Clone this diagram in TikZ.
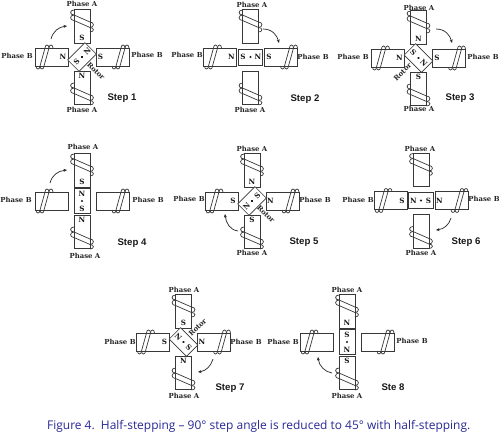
\documentclass[tikz,border=0pt]{standalone}
\usepackage{fontspec}
\setmainfont{DejaVu Serif}
\setsansfont{Liberation Sans}
\newfontfamily\capfont{Open Sans}
\usetikzlibrary{arrows.meta}
\definecolor{capblue}{RGB}{40,40,150}
\tikzset{
  ln/.style={draw=black!78,line width=0.7pt},
  phase/.style={font=\rmfamily\bfseries\fontsize{6.9}{8}\selectfont,inner sep=0pt,text=black!85},
  pole/.style={font=\rmfamily\bfseries\fontsize{7.2}{8}\selectfont,inner sep=0pt,text=black!90},
  rotorlbl/.style={font=\rmfamily\bfseries\fontsize{6.9}{8}\selectfont,inner sep=0pt,text=black!85},
  steplbl/.style={font=\sffamily\bfseries\fontsize{9.6}{10}\selectfont,inner sep=0pt,text=black!90},
  turn/.style={line width=0.7pt,draw=black!85,-{Stealth[length=3.5pt,width=3pt]}},
}
\newcommand{\vcoil}[2]{\begin{scope}[shift={(#1,#2)}]
  \draw[ln] (-8,-10) .. controls (-12.5,-10) and (-12.5,-5) .. (-8,-5) -- (8,2)
     .. controls (12.5,2) and (12.5,7.5) .. (8,7.5);
  \draw[ln] (-8,-5) .. controls (-12.5,-5) and (-12.5,0.5) .. (-8,0.5) -- (8,7.5)
     .. controls (12.5,7.5) and (12.5,12) .. (8,12);
\end{scope}}
\newcommand{\hcoil}[2]{\begin{scope}[shift={(#1,#2)}]
  \draw[ln] (-8,9) .. controls (-8,13) and (-4,13) .. (-4,9) -- (1,-9)
     .. controls (1,-13) and (5,-13) .. (5,-9);
  \draw[ln] (-4,9) .. controls (-4,13) and (0,13) .. (0,9) -- (5,-9)
     .. controls (5,-13) and (9,-13) .. (9,-9);
\end{scope}}
% centre x, y; pole letters top, left, right, bottom
\newcommand{\poles}[6]{\begin{scope}[shift={(#1,#2)}]
  \draw[ln] (-8,-47.5) rectangle (8,-14);
  \draw[ln] (-8,14) rectangle (8,47.5);
  \draw[ln] (-47,-9) rectangle (-14,9);
  \draw[ln] (14,-9) rectangle (47,9);
  \vcoil{0}{-37}
  \vcoil{0}{36}
  \hcoil{-38}{0}
  \hcoil{38}{0}
  \node[pole] at (0,-19) {#3};
  \node[pole] at (-19,0) {#4};
  \node[pole] at (18.5,0) {#5};
  \node[pole] at (0,19) {#6};
\end{scope}}
% centre x, y; body angle; letter at the negative and positive end; text angle
\newcommand{\rotorbar}[6]{\begin{scope}[shift={(#1,#2)}]
  \begin{scope}[rotate=#3]
    \draw[ln,fill=white] (-12.2,-8) rectangle (12.2,8);
    \node[pole,rotate=#6] at (-7.5,0) {#4};
    \node[pole,rotate=#6] at (7.5,0) {#5};
    \fill[black!90] (0,0) circle (1.1);
  \end{scope}
\end{scope}}
\begin{document}
\begin{tikzpicture}[x=1pt,y=-1pt]
\useasboundingbox[fill=white] (0,0) rectangle (499,434);
% Step 1
\poles{82}{57}{S}{N}{S}{N}
\rotorbar{82}{57}{45}{S}{N}{45}
\node[phase] (a1t) at (82,3.5) {Phase A};
\node[phase] (a1b) at (82,110) {Phase A};
\node[phase] (b1l) at (17,56) {Phase B};
\node[phase] (b1r) at (147,55) {Phase B};
\node[steplbl] (s1) at (122,98) {Step 1};
\node[rotorlbl,rotate=-45] (r1) at (96,71) {Rotor};
\draw[turn] (51,39) .. controls (53,31) and (59,27) .. (67,26);
% Step 2
\poles{250.5}{57}{}{N}{S}{}
\rotorbar{250.5}{57}{0}{S}{N}{0}
\node[phase] (a2t) at (252,5) {Phase A};
\node[phase] (a2b) at (250,110) {Phase A};
\node[phase] (b2l) at (187,55) {Phase B};
\node[phase] (b2r) at (313,57) {Phase B};
\node[steplbl] (s2) at (305,99) {Step 2};
\draw[turn] (263,29) .. controls (272,29) and (277,35) .. (279,43);
% Step 3
\poles{418.5}{58}{N}{N}{S}{S}
\rotorbar{418.5}{58}{-45}{S}{N}{-45}
\node[phase] (a3t) at (419,8) {Phase A};
\node[phase] (a3b) at (419,109) {Phase A};
\node[phase] (b3l) at (353,57) {Phase B};
\node[phase] (b3r) at (483,57) {Phase B};
\node[steplbl] (s3) at (460,98) {Step 3};
\node[rotorlbl,rotate=45] (r3) at (402.5,72) {Rotor};
\draw[turn] (436,29) .. controls (445,29) and (450,35) .. (452,43);
% Step 4
\poles{82}{201}{S}{}{}{N}
\rotorbar{82}{201}{-90}{N}{S}{0}
\node[phase] (a4t) at (83,147) {Phase A};
\node[phase] (a4b) at (85,256) {Phase A};
\node[phase] (b4l) at (16,200) {Phase B};
\node[phase] (b4r) at (148,200) {Phase B};
\node[steplbl] (s4) at (132,243) {Step 4};
\draw[turn] (50,183) .. controls (52,175) and (58,171) .. (67,170);
% Step 5
\poles{252}{201}{N}{S}{N}{S}
\rotorbar{252}{201}{45}{N}{S}{45}
\node[phase] (a5t) at (252,149) {Phase A};
\node[phase] (a5b) at (252,253) {Phase A};
\node[phase] (b5l) at (189,199) {Phase B};
\node[phase] (b5r) at (315,200) {Phase B};
\node[steplbl] (s5) at (304,242) {Step 5};
\node[rotorlbl,rotate=-45] (r5) at (266,214) {Rotor};
\draw[turn] (238,231) .. controls (230,230) and (226,223) .. (225,214);
% Step 6
\poles{421}{200.5}{}{S}{N}{}
\rotorbar{421}{200.5}{0}{N}{S}{0}
\node[phase] (a6t) at (420,149) {Phase A};
\node[phase] (a6b) at (421,253) {Phase A};
\node[phase] (b6l) at (358,200) {Phase B};
\node[phase] (b6r) at (484,199) {Phase B};
\node[steplbl] (s6) at (466,242) {Step 6};
\draw[turn] (451,218) .. controls (449,225) and (444,229) .. (436,230);
% Step 7
\poles{183.5}{342}{S}{S}{N}{N}
\rotorbar{183.5}{342}{-45}{N}{S}{-45}
\node[phase] (a7t) at (184,290) {Phase A};
\node[phase] (a7b) at (184,396) {Phase A};
\node[phase] (b7l) at (120,342) {Phase B};
\node[phase] (b7r) at (246,342) {Phase B};
\node[steplbl] (s7) at (230,388) {Step 7};
\node[rotorlbl,rotate=45] (r7) at (197.5,327.5) {Rotor};
\draw[turn] (213,359) .. controls (211,366) and (206,371) .. (198,372);
% Step 8
\poles{347}{342}{N}{}{}{S}
\rotorbar{347}{342}{-90}{S}{N}{0}
\node[phase] (a8t) at (347,290) {Phase A};
\node[phase] (a8b) at (347,396) {Phase A};
\node[phase] (b8l) at (283,342) {Phase B};
\node[phase] (b8r) at (412,341) {Phase B};
\node[steplbl] (s8) at (393,387) {Ste 8};
\draw[turn] (332,373) .. controls (325,372) and (319,366) .. (318,357);
% Caption
\node[anchor=west,inner sep=0pt,text=capblue,font=\capfont\fontsize{11.95}{13}\selectfont] (cap) at (47,426)
  {Figure 4.\ \ Half-stepping – 90° step angle is reduced to 45° with half-stepping.};
\end{tikzpicture}
\end{document}
